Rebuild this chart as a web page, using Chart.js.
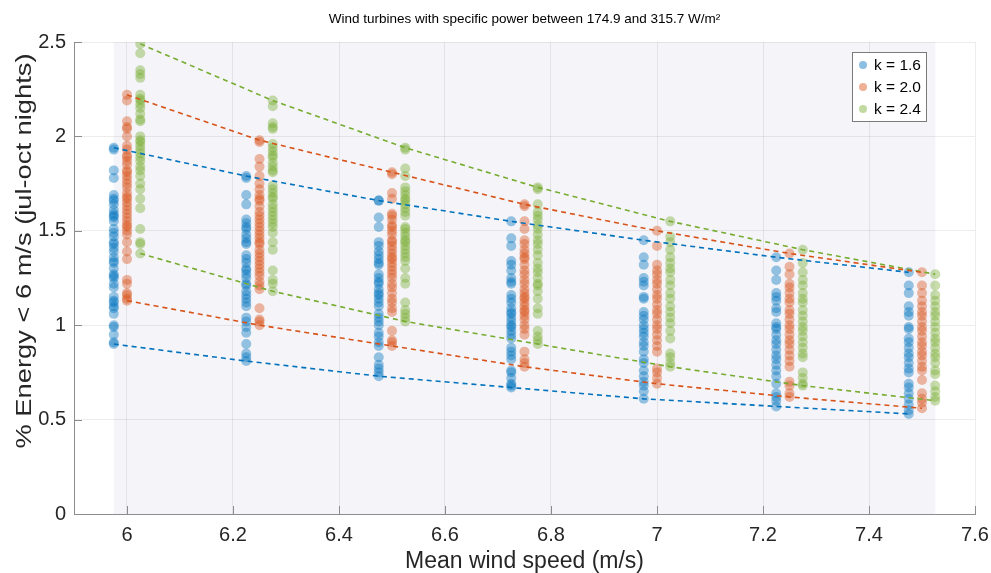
<!DOCTYPE html>
<html>
<head>
<meta charset="utf-8">
<script src="https://cdn.jsdelivr.net/npm/chart.js@4.4.0/dist/chart.umd.min.js"></script>
<style>
html,body{margin:0;padding:0;background:#fff}
</style>
</head>
<body>
<canvas id="chart" width="991" height="573"></canvas>
<script>
// mean wind speeds (each k is drawn a bit left/right of it)
const speeds = [6, 6.25, 6.5, 6.75, 7, 7.25, 7.5]
const xTicks = [6, 6.2, 6.4, 6.6, 6.8, 7, 7.2, 7.4, 7.6]
const yTicks = [0, 0.5, 1, 1.5, 2, 2.5]
const labels = ['k = 1.6', 'k = 2.0', 'k = 2.4']

// % energy below 6 m/s, one list per mean speed
const k16 = [
  [1.94,1.93,1.82,1.78,1.69,1.67,1.66,1.64,1.61,1.59,1.58,1.57,1.55,1.51,1.49,1.47,1.44,1.43,1.41,1.39,1.36,1.34,1.33,1.30,1.27,1.26,1.25,1.22,1.20,1.15,1.13,1.12,1.10,1.09,1.06,1.00,0.99,0.95,0.91,0.90],
  [1.79,1.78,1.69,1.64,1.56,1.54,1.52,1.51,1.48,1.46,1.44,1.43,1.37,1.35,1.33,1.30,1.29,1.27,1.25,1.22,1.21,1.18,1.16,1.14,1.12,1.10,1.04,1.02,0.99,0.96,0.90,0.85,0.83,0.81],
  [1.66,1.66,1.57,1.52,1.44,1.42,1.39,1.37,1.35,1.33,1.32,1.27,1.25,1.23,1.22,1.19,1.17,1.16,1.14,1.12,1.10,1.06,1.04,1.02,1.00,0.96,0.94,0.91,0.89,0.83,0.79,0.77,0.75,0.73],
  [1.55,1.46,1.42,1.34,1.32,1.29,1.25,1.23,1.22,1.16,1.14,1.12,1.09,1.07,1.06,1.04,1.02,1.00,0.99,0.97,0.95,0.93,0.88,0.86,0.84,0.82,0.76,0.75,0.72,0.69,0.68,0.67],
  [1.45,1.36,1.32,1.25,1.23,1.21,1.15,1.14,1.07,1.05,1.03,1.00,0.98,0.96,0.94,0.91,0.89,0.86,0.82,0.80,0.76,0.73,0.70,0.68,0.65,0.61],
  [1.36,1.29,1.24,1.17,1.15,1.13,1.09,1.07,1.01,0.99,0.98,0.95,0.92,0.90,0.87,0.84,0.82,0.79,0.76,0.73,0.69,0.64,0.62,0.60,0.57],
  [1.28,1.21,1.17,1.10,1.07,1.05,0.99,0.98,0.93,0.91,0.88,0.85,0.83,0.80,0.77,0.75,0.69,0.67,0.64,0.61,0.58,0.55,0.53]
]
const k20 = [
  [2.22,2.19,2.08,2.05,2.04,2.00,1.95,1.93,1.90,1.89,1.87,1.85,1.82,1.81,1.79,1.77,1.75,1.73,1.70,1.68,1.67,1.65,1.63,1.61,1.59,1.57,1.55,1.53,1.52,1.50,1.48,1.44,1.39,1.35,1.24,1.22,1.17,1.16,1.14,1.13],
  [1.98,1.97,1.88,1.84,1.79,1.75,1.72,1.69,1.67,1.66,1.63,1.60,1.58,1.56,1.54,1.52,1.50,1.48,1.46,1.44,1.43,1.40,1.38,1.36,1.34,1.32,1.30,1.28,1.26,1.23,1.21,1.19,1.09,1.03,1.02,1.00],
  [1.81,1.80,1.70,1.67,1.59,1.58,1.56,1.53,1.52,1.50,1.48,1.45,1.44,1.42,1.40,1.38,1.36,1.35,1.33,1.31,1.29,1.27,1.25,1.22,1.20,1.17,1.14,1.12,1.09,1.07,0.97,0.92,0.91,0.89],
  [1.64,1.63,1.55,1.51,1.45,1.43,1.40,1.38,1.36,1.35,1.32,1.29,1.27,1.24,1.22,1.19,1.17,1.15,1.14,1.12,1.10,1.08,1.07,1.05,1.03,1.00,0.98,0.95,0.86,0.82,0.80,0.78],
  [1.50,1.42,1.32,1.29,1.27,1.24,1.22,1.19,1.16,1.14,1.11,1.08,1.06,1.03,1.00,0.98,0.95,0.92,0.89,0.86,0.77,0.75,0.72,0.69],
  [1.38,1.31,1.27,1.22,1.20,1.17,1.14,1.12,1.08,1.06,1.03,1.00,0.98,0.95,0.92,0.90,0.87,0.84,0.81,0.78,0.70,0.68,0.64,0.62],
  [1.28,1.21,1.17,1.13,1.10,1.07,1.05,1.02,0.99,0.97,0.94,0.91,0.89,0.86,0.84,0.81,0.78,0.76,0.71,0.64,0.61,0.59,0.56]
]
const k24 = [
  [2.49,2.44,2.35,2.33,2.31,2.22,2.20,2.19,2.17,2.15,2.12,2.09,2.08,2.00,1.98,1.97,1.95,1.93,1.91,1.89,1.87,1.84,1.82,1.79,1.75,1.72,1.67,1.62,1.51,1.44,1.43,1.38],
  [2.19,2.16,2.07,2.05,2.04,1.96,1.94,1.92,1.90,1.89,1.86,1.84,1.82,1.81,1.74,1.72,1.70,1.68,1.67,1.64,1.62,1.60,1.58,1.56,1.54,1.52,1.49,1.44,1.40,1.29,1.24,1.22,1.18],
  [1.94,1.93,1.83,1.79,1.73,1.71,1.69,1.67,1.66,1.64,1.62,1.60,1.58,1.52,1.51,1.49,1.47,1.45,1.44,1.42,1.40,1.38,1.36,1.34,1.30,1.25,1.22,1.12,1.08,1.06,1.04,1.02],
  [1.73,1.72,1.64,1.60,1.58,1.56,1.53,1.51,1.48,1.45,1.43,1.40,1.37,1.33,1.30,1.28,1.25,1.22,1.21,1.18,1.14,1.09,1.06,0.97,0.94,0.92,0.90],
  [1.55,1.47,1.44,1.40,1.36,1.33,1.30,1.28,1.24,1.21,1.17,1.14,1.10,1.07,1.04,1.01,0.97,0.93,0.85,0.83,0.80,0.78],
  [1.40,1.33,1.28,1.24,1.21,1.17,1.14,1.12,1.08,1.05,1.02,0.99,0.97,0.94,0.91,0.88,0.85,0.83,0.75,0.72,0.69,0.68],
  [1.27,1.21,1.16,1.13,1.10,1.07,1.05,1.02,0.99,0.96,0.93,0.91,0.88,0.85,0.83,0.80,0.76,0.74,0.68,0.65,0.62,0.60]
]

const groups = [k16, k20, k24]
const offsets = [-0.025, 0, 0.025]
const colors = ['0,114,189', '217,83,25', '119,172,48']
const FONT = "'Liberation Sans', Arial, sans-serif"

// dashed envelopes on top, scatter clouds below
const lineSets = []
const pointSets = []
groups.forEach((g, s) => {
  const top = g.map((vals, i) => ({ x: speeds[i] + offsets[s], y: Math.max(...vals) }))
  const bot = g.map((vals, i) => ({ x: speeds[i] + offsets[s], y: Math.min(...vals) }))
  ;[top, bot].forEach(d => {
    lineSets.push({
      data: d, showLine: true, pointRadius: 0,
      borderColor: 'rgb(' + colors[s] + ')', borderWidth: 1.6, borderDash: [5, 4]
    })
  })
  pointSets.push({
    label: labels[s],
    data: g.flatMap((vals, i) => vals.map(v => ({ x: speeds[i] + offsets[s], y: v }))),
    pointRadius: 5, borderWidth: 0,
    backgroundColor: 'rgba(' + colors[s] + ',0.4)'
  })
})

const decor = {
  id: 'decor',
  beforeDraw(chart) {
    const { ctx, chartArea: a, scales: { x } } = chart
    ctx.save()
    ctx.fillStyle = '#fff'
    ctx.fillRect(0, 0, chart.width, chart.height)
    const x0 = x.getPixelForValue(speeds[0] + offsets[0])
    const x1 = x.getPixelForValue(speeds[speeds.length - 1] + offsets[2])
    ctx.fillStyle = '#f4f4f9'
    ctx.fillRect(x0, a.top, x1 - x0, a.bottom - a.top)
    ctx.restore()
  },
  afterDraw(chart) {
    const { ctx, chartArea: a, scales: { x, y } } = chart
    ctx.save()
    // inward ticks
    ctx.strokeStyle = '#8c8c8c'
    ctx.lineWidth = 1
    ctx.beginPath()
    xTicks.forEach(v => {
      const px = Math.round(x.getPixelForValue(v)) + 0.5
      ctx.moveTo(px, a.bottom); ctx.lineTo(px, a.bottom - 8)
    })
    yTicks.forEach(v => {
      const py = Math.round(y.getPixelForValue(v)) + 0.5
      ctx.moveTo(a.left, py); ctx.lineTo(a.left + 8, py)
    })
    ctx.stroke()

    // title
    ctx.fillStyle = '#000'
    ctx.textAlign = 'center'
    ctx.textBaseline = 'middle'
    ctx.font = '13.5px ' + FONT
    ctx.fillText('Wind turbines with specific power between 174.9 and 315.7 W/m²', (a.left + a.right) / 2, 19)

    // axis titles
    ctx.fillStyle = '#262626'
    ctx.font = '23px ' + FONT
    ctx.fillText('Mean wind speed (m/s)', (a.left + a.right) / 2, 562)
    ctx.save()
    ctx.translate(25, 251)
    ctx.rotate(-Math.PI / 2)
    ctx.scale(1.24, 1)
    ctx.font = '22px ' + FONT
    ctx.fillText('% Energy < 6 m/s (jul-oct nights)', 0, 0)
    ctx.restore()

    // legend box
    const bx = 852, by = 52, bw = 74, bh = 69
    ctx.fillStyle = '#fff'
    ctx.fillRect(bx, by, bw, bh)
    ctx.strokeStyle = '#7a7a7a'
    ctx.strokeRect(bx + 0.5, by + 0.5, bw, bh)
    ctx.font = '15.5px ' + FONT
    ctx.textAlign = 'left'
    labels.forEach((lab, i) => {
      const ly = 65 + i * 22
      ctx.fillStyle = 'rgba(' + colors[i] + ',0.45)'
      ctx.beginPath()
      ctx.arc(863, ly, 4, 0, Math.PI * 2)
      ctx.fill()
      ctx.fillStyle = '#000'
      ctx.fillText(lab, 874, ly + 1)
    })
    ctx.restore()
  }
}

new Chart(document.getElementById('chart'), {
  type: 'scatter',
  data: { datasets: [...lineSets, ...pointSets] },
  options: {
    responsive: false,
    animation: false,
    events: [],
    layout: { padding: { top: 42, right: 16, left: 0, bottom: 0 } },
    plugins: { legend: { display: false }, tooltip: { enabled: false }, title: { display: false } },
    scales: {
      x: {
        type: 'linear', min: 5.9, max: 7.6,
        afterBuildTicks: s => { s.ticks = xTicks.map(v => ({ value: v })) },
        afterFit: s => { s.height = 59; s.paddingLeft = 0; s.paddingRight = 0 },
        grid: { color: 'rgba(0,0,0,0.07)', drawTicks: false },
        border: { color: '#8c8c8c' },
        ticks: {
          padding: 9, color: '#262626', font: { family: FONT, size: 20 },
          callback: v => String(Math.round(v * 10) / 10)
        }
      },
      y: {
        type: 'linear', min: 0, max: 2.5,
        afterBuildTicks: s => { s.ticks = yTicks.map(v => ({ value: v })) },
        afterFit: s => { s.width = 74; s.paddingTop = 0; s.paddingBottom = 0 },
        grid: { color: 'rgba(0,0,0,0.07)', drawTicks: false },
        border: { color: '#8c8c8c' },
        ticks: {
          padding: 8, color: '#262626', font: { family: FONT, size: 20 },
          callback: v => String(Math.round(v * 10) / 10)
        }
      }
    }
  },
  plugins: [decor]
})
</script>
</body>
</html>
